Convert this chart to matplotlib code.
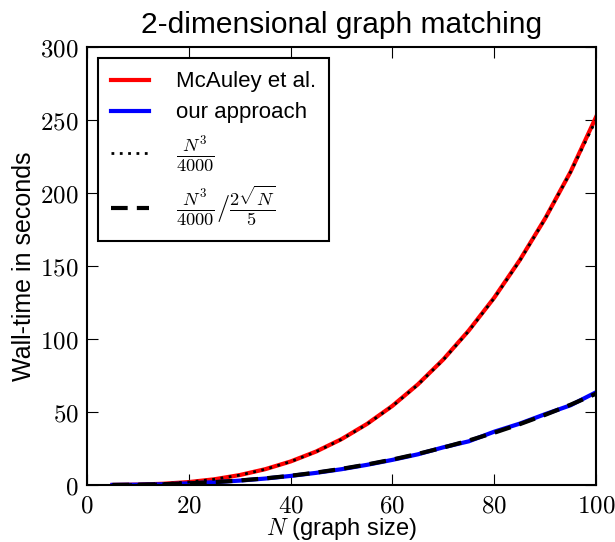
import numpy as np
import matplotlib
matplotlib.use("Agg")
import matplotlib.pyplot as plt
from matplotlib.ticker import FuncFormatter

plt.rcParams['mathtext.fontset'] = 'cm'
plt.rcParams['font.family'] = ['Liberation Sans', 'DejaVu Sans']

# graph sizes
N = [5, 10, 15, 20, 25, 30, 35, 40, 45, 50, 55, 60, 65, 70, 75, 80, 85, 90, 95, 100]

# measured wall-times (seconds)
mcauley = [0.03, 0.25, 0.85, 2.0, 3.9, 6.8, 10.8, 16.1, 22.9, 31.4,
           41.8, 54.2, 68.9, 86.0, 105.8, 128.3, 153.9, 182.5, 214.5, 252.0]
ours = [0.05, 0.2, 0.5, 1.1, 1.9, 3.0, 4.4, 6.2, 8.3, 10.8,
        13.8, 17.2, 21.0, 25.8, 29.9, 36.5, 42.0, 48.5, 54.6, 63.5]

# reference curves
cubic = [0.03, 0.25, 0.84, 2.0, 3.91, 6.75, 10.72, 16.0, 22.78, 31.25,
         41.59, 54.0, 68.66, 85.75, 105.47, 128.0, 153.53, 182.25, 214.34, 250.0]
cubic_scaled = [0.035, 0.2, 0.55, 1.12, 1.95, 3.08, 4.53, 6.32, 8.49, 11.05,
                14.02, 17.43, 21.29, 25.62, 30.45, 35.78, 41.63, 48.03, 54.98, 62.5]

fig = plt.figure(figsize=(6.15, 5.42), dpi=100)
ax = fig.add_axes([0.1415, 0.1052, 0.8276, 0.808])

ax.plot(N, mcauley, color='red', lw=3, label='McAuley et al.')
ax.plot(N, ours, color='blue', lw=3, label='our approach')
ax.plot(N, cubic, color='black', lw=2, ls=(0, (1, 2)), label=r'$\frac{N^3}{4000}$')
ax.plot(N, cubic_scaled, color='black', lw=3, ls=(0, (4, 2.2)),
        label=r'$\frac{N^3}{4000}/\frac{2\sqrt{N}}{5}$')

ax.set_xlim(0, 100)
ax.set_ylim(0, 300)
ax.set_xticks(range(0, 101, 20))
ax.set_yticks(range(0, 301, 50))
fmt = FuncFormatter(lambda v, p: r'$%d$' % v)
ax.xaxis.set_major_formatter(fmt)
ax.yaxis.set_major_formatter(fmt)
ax.tick_params(direction='in', length=8, labelsize=18, top=True, right=True, pad=6)
for s in ax.spines.values():
    s.set_linewidth(1.5)

ax.set_title('2-dimensional graph matching', fontsize=21.5, pad=10)
ax.set_xlabel(r'$N$ (graph size)', fontsize=17, labelpad=-1)
ax.set_ylabel('Wall-time in seconds', fontsize=18, labelpad=3)

leg = ax.legend(loc='upper left', fontsize=16, fancybox=False, framealpha=1,
                edgecolor='black', handlelength=1.7, handletextpad=1.2,
                borderaxespad=0.5, labelspacing=0.45, borderpad=0.6)
leg.get_frame().set_linewidth(1.5)
for t in leg.get_texts()[2:]:
    t.set_fontsize(19)

fig.savefig('out.png', dpi=100)
